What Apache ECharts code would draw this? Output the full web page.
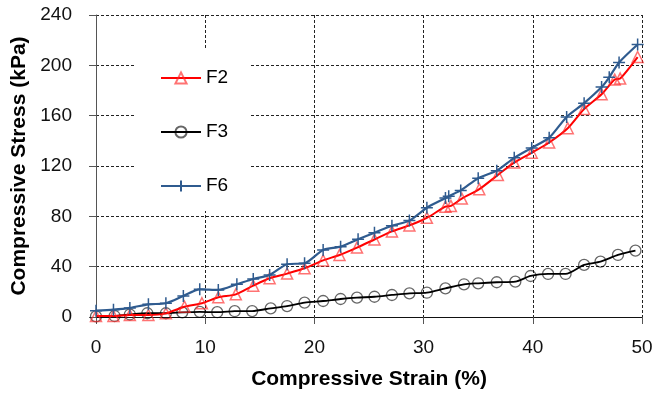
<!DOCTYPE html>
<html>
<head>
<meta charset="utf-8">
<script src="https://cdn.jsdelivr.net/npm/echarts@6/dist/echarts.min.js"></script>
<style>
  html, body { margin: 0; padding: 0; background: #fff; }
  #chart { width: 670px; height: 396px; }
</style>
</head>
<body>
<div id="chart"></div>
<script>
const xTicks = [0, 10, 20, 30, 40, 50];
const yTicks = [0, 40, 80, 120, 160, 200, 240];

const f2Strain = [0, 1.6, 3.1, 4.8, 6.4, 8.1, 9.7, 11.2, 12.8, 14.4, 15.9, 17.5, 19.1, 20.8, 22.3, 23.9, 25.5, 27.1, 28.7, 30.3, 32.0, 32.5, 33.5, 35.1, 36.8, 38.3, 39.9, 41.5, 43.2, 44.7, 46.3, 47.5, 48.0, 49.6];
const f2Stress = [0.8, 0.8, 1.6, 1.6, 2.9, 8.2, 10.9, 15.7, 18, 24.9, 30.8, 34.5, 38.7, 45, 49.3, 55.2, 61.6, 68, 72.8, 78.8, 87.7, 88.3, 94.1, 101.6, 112.9, 122.7, 130.5, 138.7, 150, 165.3, 177, 188.7, 189.5, 206.6];

const f3Strain = [0, 1.7, 3.1, 4.7, 6.4, 7.9, 9.5, 11.1, 12.7, 14.3, 16.0, 17.5, 19.1, 20.8, 22.4, 23.9, 25.5, 27.1, 28.7, 30.3, 32.0, 33.7, 35.0, 36.7, 38.4, 39.8, 41.4, 43.0, 44.7, 46.2, 47.8, 49.4];
const f3Stress = [0.5, 0.8, 2.0, 3.0, 3.0, 3.7, 4.1, 3.8, 4.6, 4.7, 6.9, 8.7, 11.4, 12.7, 14.3, 15.4, 16.1, 17.5, 18.8, 19.3, 22.8, 26, 26.8, 27.6, 28.1, 32.6, 34.2, 34.2, 41.4, 44, 49.3, 52.7];

const f6Strain = [0, 1.6, 3.1, 4.8, 6.4, 8.0, 9.5, 11.2, 12.9, 14.4, 15.9, 17.5, 19.1, 20.8, 22.4, 24.0, 25.5, 27.1, 28.7, 30.3, 32.0, 32.3, 33.4, 35.0, 36.7, 38.3, 39.9, 41.5, 43.1, 44.7, 46.3, 47.0, 47.9, 49.6];
const f6Stress = [5, 5.8, 7.2, 10.1, 10.9, 16.7, 22, 21.5, 26, 30.2, 33.4, 41.9, 42.7, 53.3, 55.9, 61.8, 67, 72.5, 76.6, 86.8, 94.5, 96, 100.6, 110.3, 116.3, 126.5, 134.4, 142.5, 159, 169.9, 182.7, 190.5, 202.3, 216.6];

const fontFamily = 'Arial, "Liberation Sans", sans-serif';
const plusSymbol = 'path://M0,5L10,5M5,0L5,10';

const pairs = (xs, ys) => xs.map((x, i) => [x, ys[i]]);

const chart = echarts.init(document.getElementById('chart'), null, { renderer: 'canvas' });

const axisBase = {
  type: 'value',
  axisLine: { show: true, lineStyle: { color: '#555', width: 1 } },
  axisTick: { show: true, inside: false, length: 7, lineStyle: { color: '#555' } },
  splitLine: { show: true, lineStyle: { color: '#222', type: [3, 2], width: 1 } },
  axisLabel: { color: '#111', fontSize: 19, fontFamily },
  nameLocation: 'middle',
  nameTextStyle: { color: '#000', fontSize: 21, fontWeight: 'bold', fontFamily },
};

chart.setOption({
  animation: false,
  backgroundColor: '#fff',
  grid: { left: 96, right: 28, top: 15, bottom: 79 },
  legend: {
    orient: 'vertical',
    left: 135,
    top: 50,
    padding: [18, 22, 15, 25],
    backgroundColor: '#fff',
    itemWidth: 40,
    itemHeight: 14,
    itemGap: 34,
    textStyle: { color: '#000', fontSize: 19, fontFamily, lineHeight: 20 },
    data: ['F2', 'F3', 'F6'],
  },
  xAxis: {
    ...axisBase,
    min: xTicks[0],
    max: xTicks[xTicks.length - 1],
    interval: xTicks[1] - xTicks[0],
    name: 'Compressive Strain (%)',
    nameGap: 52,
    axisLine: { show: true, lineStyle: { color: '#111', width: 1 } },
    axisLabel: { ...axisBase.axisLabel, margin: 21 },
  },
  yAxis: {
    ...axisBase,
    min: yTicks[0],
    max: yTicks[yTicks.length - 1],
    interval: yTicks[1] - yTicks[0],
    name: 'Compressive Stress (kPa)',
    nameGap: 59,
    axisLabel: { ...axisBase.axisLabel, margin: 24 },
  },
  series: [
    {
      name: 'F2',
      type: 'line',
      smooth: 0.25,
      data: pairs(f2Strain, f2Stress),
      symbol: 'triangle',
      symbolSize: 11,
      lineStyle: { color: '#ff0000', width: 2 },
      itemStyle: { color: 'transparent', borderColor: 'rgba(255,40,40,0.65)', borderWidth: 1.5 },
      z: 3,
    },
    {
      name: 'F3',
      type: 'line',
      smooth: 0.25,
      data: pairs(f3Strain, f3Stress),
      symbol: 'circle',
      symbolSize: 11,
      lineStyle: { color: '#000', width: 1.8 },
      itemStyle: { color: 'transparent', borderColor: 'rgba(0,0,0,0.6)', borderWidth: 1.3 },
      z: 2,
    },
    {
      name: 'F6',
      type: 'line',
      smooth: 0.25,
      data: pairs(f6Strain, f6Stress),
      symbol: plusSymbol,
      symbolSize: 12,
      lineStyle: { color: '#2f5b8f', width: 2.2 },
      itemStyle: { color: 'transparent', borderColor: '#2f5b8f', borderWidth: 1.5 },
      z: 4,
    },
  ],
});

window.addEventListener('resize', () => chart.resize());
</script>
</body>
</html>
